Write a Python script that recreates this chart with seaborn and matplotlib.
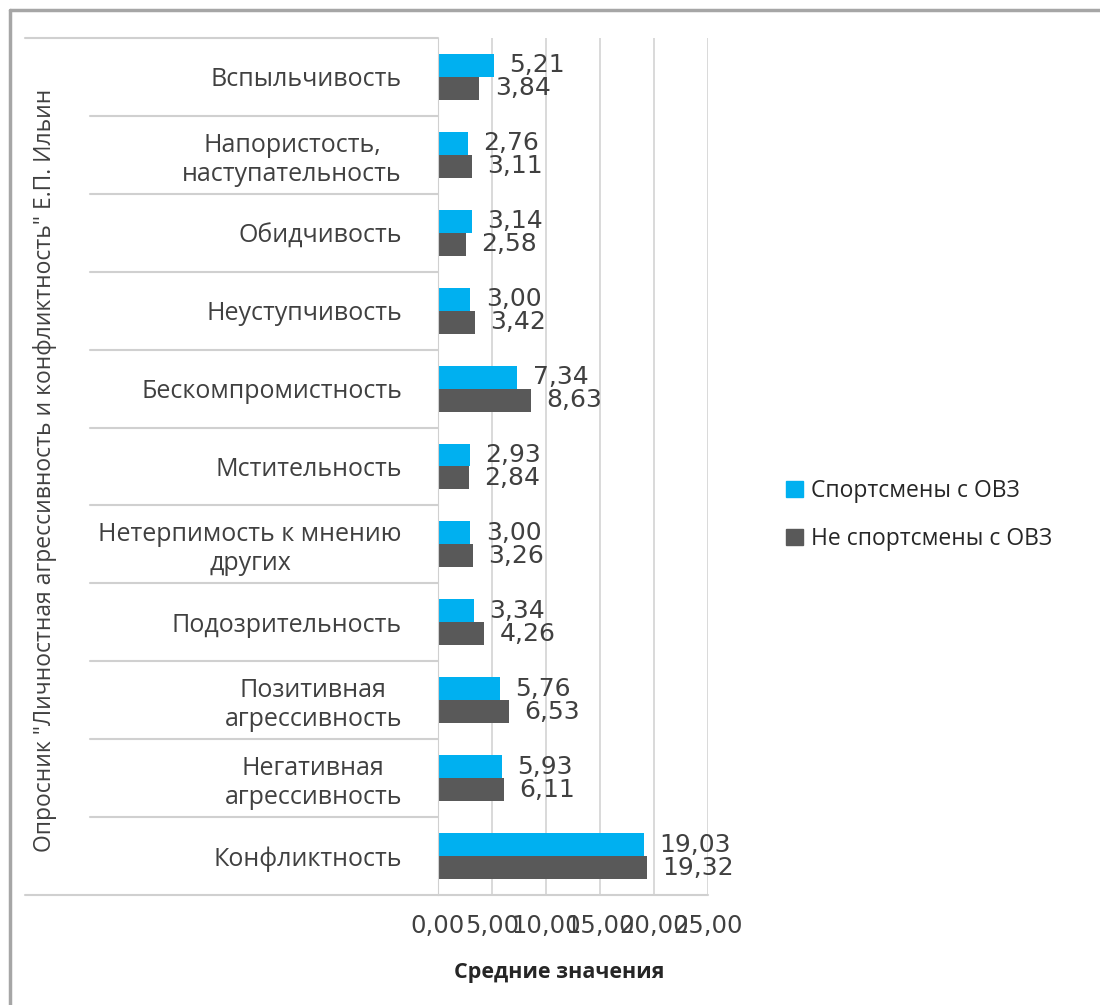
import pandas as pd
import matplotlib.pyplot as plt
import seaborn as sns
from matplotlib.lines import Line2D
from matplotlib.patches import Patch

categories = ['Вспыльчивость', 'Напористость,\nнаступательность', 'Обидчивость',
              'Неуступчивость', 'Бескомпромистность', 'Мстительность',
              'Нетерпимость к мнению\nдругих', 'Подозрительность',
              'Позитивная\nагрессивность', 'Негативная\nагрессивность', 'Конфликтность']
sport = [5.21, 2.76, 3.14, 3.00, 7.34, 2.93, 3.00, 3.34, 5.76, 5.93, 19.03]
nonsport = [3.84, 3.11, 2.58, 3.42, 8.63, 2.84, 3.26, 4.26, 6.53, 6.11, 19.32]
series = ['Спортсмены с ОВЗ', 'Не спортсмены с ОВЗ']
colors = ['#00B0F0', '#595959']
xticks = [0, 5, 10, 15, 20, 25]

df = pd.DataFrame({'cat': categories * 2,
                   'val': sport + nonsport,
                   'grp': [series[0]] * len(categories) + [series[1]] * len(categories)})

sns.set_style('white')
plt.rcParams['font.family'] = ['Open Sans', 'DejaVu Sans']

fig = plt.figure(figsize=(11, 10.05), dpi=100)
ax = fig.add_axes([438 / 1100, 1 - 895 / 1005, 270 / 1100, (895 - 38) / 1005])

sns.barplot(data=df, y='cat', x='val', hue='grp', orient='h', palette=colors,
            width=0.59, saturation=1, ax=ax, legend=False, errorbar=None, linewidth=0)

ax.set_xlim(0, 25)
ax.set_ylim(10.5, -0.5)
ax.set_xticks(xticks)
ax.set_xticklabels([f'{t:.2f}'.replace('.', ',') for t in xticks],
                   fontfamily='DejaVu Sans', fontsize=17.5, color='#404040')
ax.grid(axis='x', color='#D9D9D9', linewidth=1.4)
ax.set_axisbelow(True)
for s in ['top', 'right']:
    ax.spines[s].set_visible(False)
ax.spines['left'].set_color('#D0D0D0')
ax.spines['bottom'].set_visible(False)
ax.tick_params(axis='x', length=6, color='#D9D9D9', width=1.4, pad=8)
ax.tick_params(axis='y', length=0, pad=26)
for lab in ax.get_yticklabels():
    lab.set_fontsize(18)
    lab.set_color('#404040')
    lab.set_multialignment('center')

for cont in ax.containers:
    ax.bar_label(cont, labels=[f'{v:.2f}'.replace('.', ',') for v in cont.datavalues],
                 padding=11, fontsize=18, color='#404040', fontfamily='DejaVu Sans')

ax.set_xlabel('Средние значения', fontsize=15.5, fontweight='bold', color='#262626')
ax.xaxis.set_label_coords(0.45, -0.078)
ax.set_ylabel('')
fig.text(45 / 1100, 1 - 470 / 1005,
         'Опросник "Личностная агрессивность и конфликтность" Е.П. Ильин',
         rotation=90, ha='center', va='center', fontsize=16.5, color='#404040')

# category separators
tr = ax.get_yaxis_transform()
for y in [i + 0.5 for i in range(len(categories) - 1)]:
    ax.add_line(Line2D([-348 / 270, 0], [y, y], transform=tr, color='#D0D0D0',
                       linewidth=1.5, clip_on=False))
ax.add_line(Line2D([-413 / 270, 0], [-0.5, -0.5], transform=tr, color='#D0D0D0',
                   linewidth=1.5, clip_on=False))
ax.add_line(Line2D([-413 / 270, 1], [10.5, 10.5], transform=tr, color='#D0D0D0',
                   linewidth=1.5, clip_on=False))

# outer frame
fig.add_artist(Line2D([10 / 1100, 10 / 1100], [0, 1 - 10 / 1005], color='#A6A6A6', linewidth=2.5))
fig.add_artist(Line2D([10 / 1100, 1], [1 - 10 / 1005, 1 - 10 / 1005], color='#A6A6A6', linewidth=2.5))

handles = [Patch(color=c) for c in colors]
fig.legend(handles, series, loc='center left', bbox_to_anchor=(765 / 1100, 1 - 515 / 1005),
           frameon=False, fontsize=16.5, handlelength=0.75, handleheight=0.75,
           handletextpad=0.35, labelspacing=1.05, labelcolor='#262626')

fig.savefig('out.png', dpi=100)
